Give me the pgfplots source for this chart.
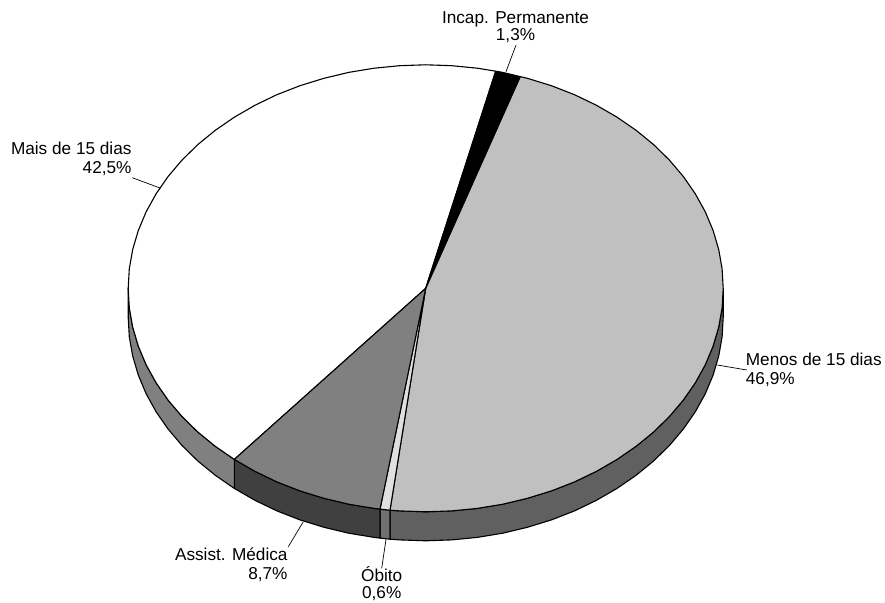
\documentclass[border=0pt]{standalone}
\usepackage{pgfplots}
\pgfplotsset{compat=1.18}
\usepackage{fontspec}
\setmainfont{Liberation Sans}
\definecolor{gTop}{HTML}{C0C0C0}
\definecolor{gSide}{HTML}{606060}
\definecolor{oTop}{HTML}{E0E0E0}
\definecolor{oSide}{HTML}{707070}
\definecolor{aTop}{HTML}{808080}
\definecolor{aSide}{HTML}{404040}
\definecolor{wSide}{HTML}{808080}
\tikzset{lab/.style={inner sep=0pt, font=\fontsize{17.2}{19}\selectfont, text=black}}
\begin{document}
\begin{tikzpicture}[x=1pt,y=1pt]
\path[use as bounding box] (0,0) rectangle (885,602);
\begin{axis}[
  at={(0,0)}, anchor=south west,
  scale only axis, width=885pt, height=602pt,
  xmin=-425.7, xmax=459.3, ymin=-313.7, ymax=288.3,
  hide axis, clip=false,
  every axis plot/.append style={no markers, line join=round, draw=black, line width=1.1pt},
]
% side walls
\addplot[fill=gSide] coordinates {(297.5,0)(296.4,-19.5)(293,-38.8)(287.4,-57.8)(279.6,-76.4)(269.6,-94.5)(257.6,-111.8)(243.7,-128.2)(227.9,-143.7)(210.4,-158)(191.2,-171.2)(170.6,-183.1)(148.8,-193.6)(125.7,-202.6)(101.7,-210)(77,-215.9)(51.6,-220.1)(25.9,-222.6)(0,-223.5)(-25.9,-222.6)(-35.7,-221.9)(-35.7,-250.9)(-25.9,-251.6)(0,-252.5)(25.9,-251.6)(51.6,-249.1)(77,-244.9)(101.7,-239)(125.7,-231.6)(148.8,-222.6)(170.6,-212.1)(191.2,-200.2)(210.4,-187)(227.9,-172.7)(243.7,-157.2)(257.6,-140.8)(269.6,-123.5)(279.6,-105.4)(287.4,-86.8)(293,-67.8)(296.4,-48.5)(297.5,-29)} --cycle;
\addplot[fill=oSide] coordinates {(-35.7,-221.9)(-45.7,-220.8)(-45.7,-249.8)(-35.7,-250.9)} --cycle;
\addplot[fill=aSide] coordinates {(-45.7,-220.8)(-51.6,-220.1)(-77,-215.9)(-101.7,-210)(-125.7,-202.6)(-148.8,-193.6)(-170.6,-183.1)(-191.4,-171.1)(-191.4,-200.1)(-170.6,-212.1)(-148.8,-222.6)(-125.7,-231.6)(-101.7,-239)(-77,-244.9)(-51.6,-249.1)(-45.7,-249.8)} --cycle;
\addplot[fill=wSide] coordinates {(-191.4,-171.1)(-210.4,-158)(-227.9,-143.7)(-243.7,-128.2)(-257.6,-111.8)(-269.6,-94.5)(-279.6,-76.4)(-287.4,-57.8)(-293,-38.8)(-296.4,-19.5)(-297.5,0)(-297.5,-29)(-296.4,-48.5)(-293,-67.8)(-287.4,-86.8)(-279.6,-105.4)(-269.6,-123.5)(-257.6,-140.8)(-243.7,-157.2)(-227.9,-172.7)(-210.4,-187)(-191.4,-200.1)} --cycle;
% top faces
\addplot[fill=white] coordinates {(0,0)(-191.4,-171.1)(-210.4,-158)(-227.9,-143.7)(-243.7,-128.2)(-257.6,-111.8)(-269.6,-94.5)(-279.6,-76.4)(-287.4,-57.8)(-293,-38.8)(-296.4,-19.5)(-297.5,0)(-296.4,19.5)(-293,38.8)(-287.4,57.8)(-279.6,76.4)(-269.6,94.5)(-257.6,111.8)(-243.7,128.2)(-227.9,143.7)(-210.4,158)(-191.2,171.2)(-170.6,183.1)(-148.8,193.6)(-125.7,202.6)(-101.7,210)(-77,215.9)(-51.6,220.1)(-25.9,222.6)(0,223.5)(25.9,222.6)(51.6,220.1)(70,217.1)} --cycle;
\addplot[fill=gTop] coordinates {(0,0)(94.5,211.7)(101.7,210)(125.7,202.6)(148.8,193.6)(170.6,183.1)(191.2,171.2)(210.4,158)(227.9,143.7)(243.7,128.2)(257.6,111.8)(269.6,94.5)(279.6,76.4)(287.4,57.8)(293,38.8)(296.4,19.5)(297.5,0)(296.4,-19.5)(293,-38.8)(287.4,-57.8)(279.6,-76.4)(269.6,-94.5)(257.6,-111.8)(243.7,-128.2)(227.9,-143.7)(210.4,-158)(191.2,-171.2)(170.6,-183.1)(148.8,-193.6)(125.7,-202.6)(101.7,-210)(77,-215.9)(51.6,-220.1)(25.9,-222.6)(0,-223.5)(-25.9,-222.6)(-35.7,-221.9)} --cycle;
\addplot[fill=oTop] coordinates {(0,0)(-35.7,-221.9)(-45.7,-220.8)} --cycle;
\addplot[fill=aTop] coordinates {(0,0)(-45.7,-220.8)(-51.6,-220.1)(-77,-215.9)(-101.7,-210)(-125.7,-202.6)(-148.8,-193.6)(-170.6,-183.1)(-191.4,-171.1)} --cycle;
\addplot[fill=black] coordinates {(0,0)(70,217.1)(77,215.9)(94.5,211.7)} --cycle;
% leader lines
\addplot[line width=0.7pt] coordinates {(90.3,243.3)(80.3,216.6)};
\addplot[line width=0.7pt] coordinates {(-39.7,-251)(-44,-280)};
\addplot[line width=0.7pt] coordinates {(-122.4,-233.4)(-137.4,-258.4)};
\addplot[line width=0.7pt] coordinates {(291.6,-76.7)(321,-81.7)};
\addplot[line width=0.7pt] coordinates {(-293.4,110.6)(-265,100)};
% labels
\node[lab,anchor=base] at (axis cs:89.8,265) {Incap. Permanente};
\node[lab,anchor=base] at (axis cs:89.8,247.6) {1,3\%};
\node[lab,anchor=base] at (axis cs:-44,-293.4) {Óbito};
\node[lab,anchor=base] at (axis cs:-44,-310.2) {0,6\%};
\node[lab,anchor=base east] at (axis cs:-138,-272.4) {Assist. Médica};
\node[lab,anchor=base east] at (axis cs:-138,-290.7) {8,7\%};
\node[lab,anchor=base west] at (axis cs:320,-77.7) {Menos de 15 dias};
\node[lab,anchor=base west] at (axis cs:320,-96.7) {46,9\%};
\node[lab,anchor=base east] at (axis cs:-294,133.3) {Mais de 15 dias};
\node[lab,anchor=base east] at (axis cs:-294,114.3) {42,5\%};
\end{axis}
\end{tikzpicture}
\end{document}
